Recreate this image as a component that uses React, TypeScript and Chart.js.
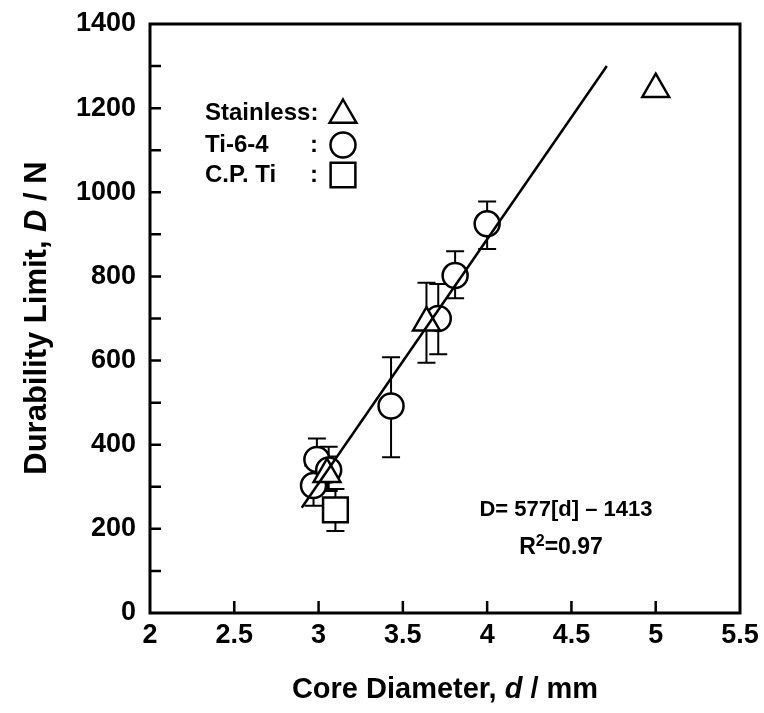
import React, { useEffect, useRef } from 'react';
import { Chart, registerables } from 'chart.js';
Chart.register(...registerables);

// ---- data ----
const stainlessX = [3.05, 3.64, 5.0];
const stainlessY = [330, 690, 1245];
const stainlessLo: (number | null)[] = [292, 595, null];
const stainlessHi: (number | null)[] = [372, 785, null];

const ti64X = [2.97, 2.99, 3.06, 3.43, 3.71, 3.81, 4.0];
const ti64Y = [303, 365, 340, 492, 700, 802, 925];
const ti64Lo: (number | null)[] = [255, 318, 290, 370, 615, 748, 865];
const ti64Hi: (number | null)[] = [350, 415, 395, 608, 782, 860, 978];

const cpTiX = [3.1];
const cpTiY = [245];
const cpTiLo: (number | null)[] = [195];
const cpTiHi: (number | null)[] = [295];

const fitX = [2.9, 4.71];
const fitY = [250, 1300];

const xMin = 2, xMax = 5.5, xStep = 0.5;
const yMin = 0, yMax = 1400, yStep = 200, yMinorStep = 100;

const legendLabels = ['Stainless:', 'Ti-6-4', 'C.P. Ti'];
const equationText = 'D= 577[d] \u2013 1413';

const FONT = "'Liberation Sans', Arial, sans-serif";

const R_CIRCLE = 12.5;
const R_TRI = 15.5;
const R_RECT = 17.5;

function drawMarker(ctx: CanvasRenderingContext2D, style: string, x: number, y: number, r: number) {
  ctx.beginPath();
  if (style === 'circle') {
    ctx.arc(x, y, r, 0, Math.PI * 2);
  } else if (style === 'triangle') {
    ctx.moveTo(x, y - r);
    ctx.lineTo(x + 0.866 * r, y + 0.5 * r);
    ctx.lineTo(x - 0.866 * r, y + 0.5 * r);
    ctx.closePath();
  } else {
    const s = Math.SQRT1_2 * r;
    ctx.rect(x - s, y - s, 2 * s, 2 * s);
  }
  ctx.fillStyle = '#fff';
  ctx.fill();
  ctx.lineWidth = 2.5;
  ctx.strokeStyle = '#000';
  ctx.stroke();
}

// segments: [text, font, baselineShift]
function drawSegments(ctx: CanvasRenderingContext2D, segs: [string, string, number?][], cx: number, cy: number) {
  const widths = segs.map(([t, f]) => { ctx.font = f; return ctx.measureText(t).width; });
  const total = widths.reduce((a, b) => a + b, 0);
  let x = cx - total / 2;
  ctx.textAlign = 'left';
  ctx.textBaseline = 'middle';
  segs.forEach(([t, f, dy], i) => { ctx.font = f; ctx.fillText(t, x, cy + (dy || 0)); x += widths[i]; });
}

const errorSets = [
  { xs: stainlessX, lo: stainlessLo, hi: stainlessHi },
  { xs: ti64X, lo: ti64Lo, hi: ti64Hi },
  { xs: cpTiX, lo: cpTiLo, hi: cpTiHi },
];

const customPlugin = {
  id: 'custom',
  beforeDatasetsDraw(chart: any) {
    const { ctx, scales: { x, y } } = chart;
    ctx.save();
    ctx.strokeStyle = '#000';
    ctx.lineWidth = 2;
    errorSets.forEach((s) => s.xs.forEach((xv, i) => {
      const lo = s.lo[i], hi = s.hi[i];
      if (lo == null || hi == null) return;
      const px = x.getPixelForValue(xv);
      const pl = y.getPixelForValue(lo);
      const ph = y.getPixelForValue(hi);
      ctx.beginPath();
      ctx.moveTo(px, pl); ctx.lineTo(px, ph);
      ctx.moveTo(px - 9, pl); ctx.lineTo(px + 9, pl);
      ctx.moveTo(px - 9, ph); ctx.lineTo(px + 9, ph);
      ctx.stroke();
    }));
    ctx.restore();
  },
  afterDraw(chart: any) {
    const { ctx, chartArea: a, scales: { x, y } } = chart;
    ctx.save();
    // frame
    ctx.strokeStyle = '#000';
    ctx.lineWidth = 3;
    ctx.strokeRect(a.left, a.top, a.right - a.left, a.bottom - a.top);
    // ticks
    ctx.lineWidth = 2.5;
    ctx.beginPath();
    for (let v = yMin + yMinorStep; v < yMax; v += yMinorStep) {
      const py = y.getPixelForValue(v);
      ctx.moveTo(a.left, py); ctx.lineTo(a.left + 11, py);
    }
    for (let v = xMin + xStep; v < xMax - 1e-9; v += xStep) {
      const px = x.getPixelForValue(v);
      ctx.moveTo(px, a.bottom); ctx.lineTo(px, a.bottom - 12);
    }
    ctx.stroke();

    ctx.fillStyle = '#000';
    // axis titles
    const tb = `bold 29px ${FONT}`;
    const ti = `italic bold 29px ${FONT}`;
    drawSegments(ctx, [['Core Diameter, ', tb], ['d', ti], [' / mm', tb]], (a.left + a.right) / 2, 690);
    const yb = `bold 31px ${FONT}`;
    const yi = `italic bold 31px ${FONT}`;
    ctx.save();
    ctx.translate(37, 318);
    ctx.rotate(-Math.PI / 2);
    drawSegments(ctx, [['Durability Limit, ', yb], ['D', yi], [' / N', yb]], 0, 0);
    ctx.restore();

    // legend
    ctx.font = `bold 24px ${FONT}`;
    ctx.textAlign = 'left';
    ctx.textBaseline = 'middle';
    const ly = [113, 145, 175];
    ctx.fillText(legendLabels[0], 205, ly[0]);
    ctx.fillText(legendLabels[1], 205, ly[1]);
    ctx.fillText(legendLabels[2], 205, ly[2]);
    ctx.fillText(':', 310, ly[1]);
    ctx.fillText(':', 310, ly[2]);
    drawMarker(ctx, 'triangle', 343, ly[0] + 2, R_TRI);
    drawMarker(ctx, 'circle', 343, ly[1], R_CIRCLE);
    drawMarker(ctx, 'rect', 343, ly[2], R_RECT);

    // equation
    ctx.fillStyle = '#000';
    const ef = `bold 22px ${FONT}`;
    const ef2 = `bold 23px ${FONT}`;
    drawSegments(ctx, [[equationText, ef]], 566, 510);
    drawSegments(ctx, [['R', ef2], ['2', `bold 16px ${FONT}`, -6], ['=0.97', ef2]], 561, 548);
    ctx.restore();
  },
};

export default function App() {
  const ref = useRef<HTMLCanvasElement>(null);
  useEffect(() => {
    document.body.style.margin = '0';
    const canvas = ref.current!;
    const pts = (xs: number[], ys: number[]) => xs.map((v, i) => ({ x: v, y: ys[i] }));
    const markerBase = {
      showLine: false,
      backgroundColor: '#fff',
      borderColor: '#000',
      borderWidth: 2.5,
      pointBorderWidth: 2.5,
    };
    const chart = new Chart(canvas, {
      type: 'scatter',
      data: {
        datasets: [
          {
            label: 'fit',
            data: pts(fitX, fitY),
            showLine: true,
            borderColor: '#000',
            borderWidth: 2.5,
            pointRadius: 0,
            order: 0,
          },
          { ...markerBase, label: 'Stainless', data: pts(stainlessX, stainlessY), pointStyle: 'triangle', pointRadius: R_TRI, order: 1 },
          { ...markerBase, label: 'Ti-6-4', data: pts(ti64X, ti64Y), pointStyle: 'circle', pointRadius: R_CIRCLE, order: 2 },
          { ...markerBase, label: 'C.P. Ti', data: pts(cpTiX, cpTiY), pointStyle: 'rect', pointRadius: R_RECT, order: 3 },
        ] as any,
      },
      options: {
        animation: false,
        responsive: false,
        devicePixelRatio: 1,
        layout: { padding: { top: 24, right: 24, left: 0, bottom: 0 } },
        plugins: { legend: { display: false }, tooltip: { enabled: false } },
        scales: {
          x: {
            type: 'linear',
            min: xMin,
            max: xMax,
            ticks: {
              stepSize: xStep, color: '#000', font: { family: FONT, size: 27, weight: 'bold' }, padding: 6, maxRotation: 0,
              callback: (v: any) => String(v),
            },
            grid: { display: false, drawTicks: false },
            border: { display: false },
            afterFit: (s: any) => { s.height = 100; s.paddingLeft = 0; s.paddingRight = 0; },
          },
          y: {
            type: 'linear',
            min: yMin,
            max: yMax,
            ticks: {
              stepSize: yStep, color: '#000', font: { family: FONT, size: 27, weight: 'bold' }, padding: 14,
              callback: (v: any) => String(v),
            },
            grid: { display: false, drawTicks: false },
            border: { display: false },
            afterFit: (s: any) => { s.width = 150; s.paddingTop = 0; s.paddingBottom = 0; },
          },
        },
      } as any,
      plugins: [customPlugin],
    });
    return () => chart.destroy();
  }, []);
  return <canvas ref={ref} width={764} height={713} style={{ display: 'block' }} />;
}
